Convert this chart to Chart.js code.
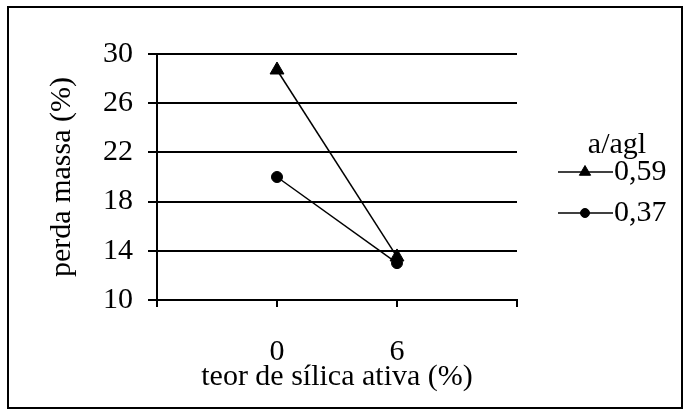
<!DOCTYPE html>
<html>
<head>
<meta charset="utf-8">
<script src="https://cdn.jsdelivr.net/npm/chart.js@4/dist/chart.umd.min.js"></script>
<style>
  html, body { margin: 0; padding: 0; background: #fff; }
  #wrap { width: 687px; height: 411px; }
</style>
</head>
<body>
<div id="wrap"><canvas id="c" width="687" height="411"></canvas></div>
<script>
// Mass loss vs. silica fume content, for two water/binder ratios
const categories = ['0', '6'];
const seriesNames = ['0,59', '0,37'];
const series059 = [28.7, 13.5];
const series037 = [20.0, 13.0];
const yTicks = [10, 14, 18, 22, 26, 30];
const legendTitle = 'a/agl';
const xTitle = 'teor de sílica ativa (%)';
const yTitle = 'perda massa (%)';

const FONT = "'Liberation Serif', 'Times New Roman', serif";
const FONT_SIZE = 30;

// empty slots at both ends so the points sit on the inner tick marks
const labels = ['', ...categories, ''];
const padded = arr => [null, ...arr, null];

const frame = {
  id: 'frame',
  beforeDraw(chart) {
    const ctx = chart.ctx;
    ctx.save();
    ctx.fillStyle = '#fff';
    ctx.fillRect(0, 0, chart.width, chart.height);
    ctx.restore();
  },
  afterDraw(chart) {
    const ctx = chart.ctx;
    ctx.save();
    ctx.strokeStyle = '#000';
    ctx.lineWidth = 2;
    ctx.strokeRect(8, 7, 674, 401);
    ctx.restore();
  }
};

const sideLegend = {
  id: 'sideLegend',
  afterDraw(chart) {
    const ctx = chart.ctx;
    ctx.save();
    ctx.fillStyle = '#000';
    ctx.strokeStyle = '#000';
    ctx.font = FONT_SIZE + 'px ' + FONT;
    ctx.textAlign = 'center';
    ctx.textBaseline = 'alphabetic';
    ctx.fillText(legendTitle, 617, 153);
    chart.data.datasets.forEach((ds, i) => {
      const y = 172 + i * 41;
      ctx.lineWidth = 1.5;
      ctx.beginPath();
      ctx.moveTo(558, y);
      ctx.lineTo(613, y);
      ctx.stroke();
      ctx.lineWidth = 1;
      Chart.helpers.drawPoint(ctx, {
        pointStyle: ds.pointStyle,
        radius: ds.pointStyle === 'triangle' ? 6.5 : 4.5,
        rotation: 0,
        borderWidth: 1
      }, 585, y);
      ctx.textAlign = 'left';
      ctx.textBaseline = 'middle';
      ctx.fillText(ds.label, 614, y);
    });
    ctx.restore();
  }
};

new Chart(document.getElementById('c'), {
  type: 'line',
  data: {
    labels: labels,
    datasets: [
      {
        label: seriesNames[0],
        data: padded(series059),
        borderColor: '#000',
        backgroundColor: '#000',
        borderWidth: 1.5,
        pointStyle: 'triangle',
        pointRadius: 8,
        pointBorderWidth: 1,
        pointBackgroundColor: '#000',
        pointBorderColor: '#000'
      },
      {
        label: seriesNames[1],
        data: padded(series037),
        borderColor: '#000',
        backgroundColor: '#000',
        borderWidth: 1.5,
        pointStyle: 'circle',
        pointRadius: 5.5,
        pointBorderWidth: 1,
        pointBackgroundColor: '#000',
        pointBorderColor: '#000'
      }
    ]
  },
  options: {
    responsive: false,
    animation: false,
    devicePixelRatio: 1,
    layout: { padding: { left: 10, right: 170, top: 54, bottom: 10 } },
    plugins: {
      legend: { display: false },
      tooltip: { enabled: false }
    },
    scales: {
      x: {
        type: 'category',
        offset: false,
        grid: {
          display: true,
          drawOnChartArea: false,
          drawTicks: true,
          tickLength: 7,
          color: '#000',
          lineWidth: 2
        },
        border: { display: true, color: '#000', width: 2 },
        ticks: {
          color: '#000',
          font: { family: FONT, size: FONT_SIZE },
          padding: 27,
          maxRotation: 0,
          autoSkip: false
        },
        title: {
          display: true,
          text: xTitle,
          color: '#000',
          font: { family: FONT, size: FONT_SIZE },
          padding: { top: 0, bottom: 6 }
        },
        afterFit(scale) { scale.height = 101; }
      },
      y: {
        min: 10,
        max: 30,
        afterBuildTicks(scale) { scale.ticks = yTicks.map(v => ({ value: v })); },
        grid: {
          color: '#000',
          lineWidth: 2,
          drawTicks: true,
          tickLength: 9
        },
        border: { display: true, color: '#000', width: 2 },
        ticks: {
          color: '#000',
          font: { family: FONT, size: FONT_SIZE },
          padding: 15
        },
        title: {
          display: true,
          text: yTitle,
          color: '#000',
          font: { family: FONT, size: FONT_SIZE },
          padding: { top: 34, bottom: 0 }
        },
        afterFit(scale) { scale.width = 147; }
      }
    }
  },
  plugins: [frame, sideLegend]
});
</script>
</body>
</html>
